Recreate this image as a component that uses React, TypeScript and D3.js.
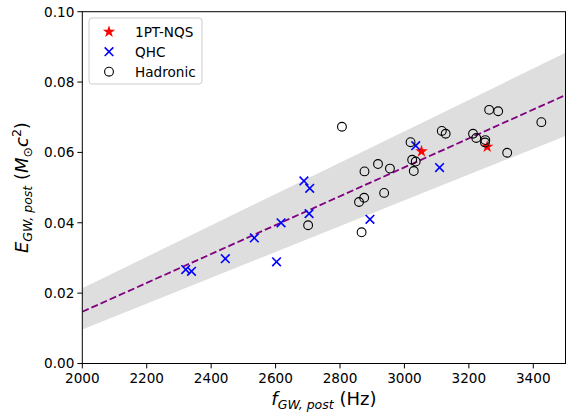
import React from "react";
import * as d3 from "d3";

const W = 566, H = 415;
const xTicks = [2000, 2200, 2400, 2600, 2800, 3000, 3200, 3400];
const yTicks = [0.0, 0.02, 0.04, 0.06, 0.08, 0.1];

const nqsF = [3053, 3257];
const nqsE = [0.0603, 0.0616];

const qhcF = [2688, 2706, 2704, 2617, 2534, 2444, 2603, 2321, 2339, 3035, 3109, 2893];
const qhcE = [0.0519, 0.0498, 0.0426, 0.0400, 0.0357, 0.0298, 0.0289, 0.0267, 0.0262, 0.0619, 0.0557, 0.0410];

const hadF = [2806, 2701, 3263, 3291, 3425, 3019, 3116, 3128, 3213, 3223, 3251, 3250, 3319, 2918, 2876, 2955, 3024, 3035, 3029, 2937, 2875, 2859, 2867];
const hadE = [0.0673, 0.0393, 0.0721, 0.0717, 0.0686, 0.0629, 0.0661, 0.0653, 0.0653, 0.0641, 0.0635, 0.0628, 0.0599, 0.0567, 0.0546, 0.0554, 0.0579, 0.0574, 0.0547, 0.0485, 0.0471, 0.0459, 0.0373];

const fitF = [2000, 3500];
const fitE = [0.0147, 0.0763];
const bandUpper = [0.0214, 0.0883];
const bandLower = [0.0097, 0.0647];

export default function App() {
  const left = 82.3, right = 565.5, top = 11.7, bottom = 363.5;
  const x = d3.scaleLinear().domain([2000, 3500]).range([left, right]);
  const y = d3.scaleLinear().domain([0, 0.1]).range([bottom, top]);

  const bandPts = fitF.map((f, i) => ({ f, lo: bandLower[i], hi: bandUpper[i] }));
  const area = d3.area<any>().x((d) => x(d.f)).y0((d) => y(d.lo)).y1((d) => y(d.hi));
  const line = d3.line<number>().x((_, i) => x(fitF[i])).y((d) => y(d));
  const star = d3.symbol().type(d3.symbolStar).size(48)() as string;
  const font = "DejaVu Sans, sans-serif";
  const cs = 4.3;

  const Cross = ({ cx, cy }: { cx: number; cy: number }) => (
    <g stroke="#0000ff" strokeWidth={1.6}>
      <line x1={cx - cs} y1={cy - cs} x2={cx + cs} y2={cy + cs} />
      <line x1={cx - cs} y1={cy + cs} x2={cx + cs} y2={cy - cs} />
    </g>
  );

  return (
    <svg width={W} height={H} style={{ position: "absolute", left: 0, top: 0, background: "#fff" }} fontFamily={font}>
      <defs>
        <clipPath id="clip">
          <rect x={left} y={top} width={right - left} height={bottom - top} />
        </clipPath>
      </defs>
      <g clipPath="url(#clip)">
        <path d={area(bandPts) as string} fill="#dedede" />
        <path d={line(fitE) as string} fill="none" stroke="#800080" strokeWidth={1.8} strokeDasharray="7,3" />
        {nqsF.map((f, i) => (
          <path key={"s" + i} d={star} transform={`translate(${x(f)},${y(nqsE[i])})`} fill="#ff0000" />
        ))}
        {qhcF.map((f, i) => (
          <Cross key={"q" + i} cx={x(f)} cy={y(qhcE[i])} />
        ))}
        {hadF.map((f, i) => (
          <circle key={"h" + i} cx={x(f)} cy={y(hadE[i])} r={4.4} fill="none" stroke="#000" strokeWidth={1.1} />
        ))}
      </g>
      {/* axes */}
      <rect x={left} y={top} width={right - left} height={bottom - top} fill="none" stroke="#000" strokeWidth={1} />
      {xTicks.map((t) => (
        <g key={"xt" + t}>
          <line x1={x(t)} x2={x(t)} y1={bottom} y2={bottom + 4.9} stroke="#000" strokeWidth={1} />
          <text x={x(t)} y={bottom + 19.5} textAnchor="middle" fontSize={13.6} fill="#000">{t}</text>
        </g>
      ))}
      {yTicks.map((t) => (
        <g key={"yt" + t}>
          <line x1={left - 4.9} x2={left} y1={y(t)} y2={y(t)} stroke="#000" strokeWidth={1} />
          <text x={left - 8} y={y(t) + 4.8} textAnchor="end" fontSize={13.6} fill="#000">{t.toFixed(2)}</text>
        </g>
      ))}
      {/* x label */}
      <text x={(left + right) / 2} y={405} textAnchor="middle" fontSize={18} fill="#000">
        <tspan fontStyle="italic">f</tspan>
        <tspan fontStyle="italic" fontSize={12.5} dy={4}>GW, post</tspan>
        <tspan dy={-4}> (Hz)</tspan>
      </text>
      {/* y label */}
      <text transform={`translate(28,${(top + bottom) / 2}) rotate(-90)`} textAnchor="middle" fontSize={18} fill="#000">
        <tspan fontStyle="italic">E</tspan>
        <tspan fontStyle="italic" fontSize={12.5} dy={4}>GW, post</tspan>
        <tspan dy={-4}> (</tspan>
        <tspan fontStyle="italic">M</tspan>
        <tspan fontSize={12.5} dy={4}>⊙</tspan>
        <tspan fontStyle="italic" dy={-4}>c</tspan>
        <tspan fontSize={12.5} dy={-7}>2</tspan>
        <tspan dy={7}>)</tspan>
      </text>
      {/* legend */}
      <rect x={89} y={18} width={113} height={66} rx={3} fill="#fff" fillOpacity={0.8} stroke="#cccccc" strokeWidth={1} />
      <path d={star} transform="translate(109,31.7)" fill="#ff0000" />
      <text x={135} y={36.5} fontSize={13.6} fill="#000">1PT-NQS</text>
      <Cross cx={109} cy={51.7} />
      <text x={135} y={56.5} fontSize={13.6} fill="#000">QHC</text>
      <circle cx={109} cy={71.7} r={4.4} fill="none" stroke="#000" strokeWidth={1.1} />
      <text x={135} y={76.5} fontSize={13.6} fill="#000">Hadronic</text>
    </svg>
  );
}
